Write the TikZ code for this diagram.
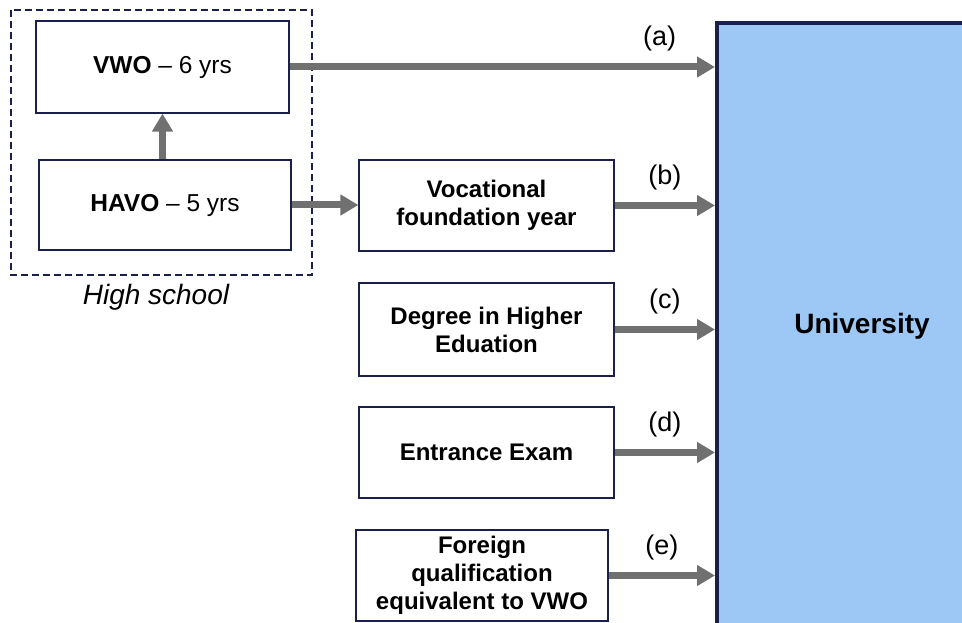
\documentclass[tikz,border=0pt]{standalone}
\usepackage{fontspec}
\setmainfont{Liberation Sans}
\usetikzlibrary{arrows.meta}
\definecolor{navy}{HTML}{1B1F4B}
\definecolor{unifill}{HTML}{9DC8F5}
\definecolor{flowgray}{HTML}{707070}

\begin{document}
\begin{tikzpicture}[x=1pt,y=-1pt,
  box/.style={draw=navy, line width=1.2pt, fill=white, align=center, inner sep=0pt, font=\fontsize{24}{28}\selectfont\bfseries},
  flow/.style={draw=flowgray, line width=7pt, -{Triangle[length=18pt,width=20pt]}},
  tag/.style={font=\fontsize{27}{30}\selectfont}]

\useasboundingbox (0,0) rectangle (962,623);

% the university block, cut off at the right and bottom
\node[draw=navy, line width=4pt, fill=unifill, minimum width=290pt, minimum height=606pt,
  font=\fontsize{28}{32}\selectfont\bfseries] (uni) at (862,326) {University};

% high school
\draw[navy, line width=1.2pt, dash pattern=on 7pt off 4pt] (11,10) rectangle (312,275);
\node[box, minimum width=253pt, minimum height=92pt, font=\fontsize{24.5}{28}\selectfont] (vwo) at (162.5,67) {\textbf{VWO} -- 6 yrs};
\node[box, minimum width=252pt, minimum height=90pt, font=\fontsize{24.5}{28}\selectfont] (havo) at (165,205) {\textbf{HAVO} -- 5 yrs};
\node[tag, font=\fontsize{28}{30}\selectfont\itshape] (hs) at (156,297) {High school};

% other routes
\node[box, minimum width=255pt, minimum height=91pt] (voc) at (486.5,205.5) {Vocational\\foundation year};
\node[box, minimum width=255pt, minimum height=93pt] (deg) at (486.5,329.5) {Degree in Higher\\Eduation};
\node[box, minimum width=255pt, minimum height=91pt] (exam) at (486.5,452.5) {Entrance Exam};
\node[box, minimum width=252pt, minimum height=91pt] (frgn) at (482,575.5) {Foreign\\qualification\\equivalent to VWO};

% arrows
\draw[flow] (vwo.south |- havo.north) -- (vwo.south);
\draw[flow] (havo.east) -- (havo.east -| voc.west);
\draw[flow] (vwo.east) -- (vwo.east -| uni.west) node[tag, pos=0.87, above=9pt] {(a)};
\draw[flow] (voc.east) -- (voc.east -| uni.west) node[tag, midway, above=9pt] {(b)};
\draw[flow] (deg.east) -- (deg.east -| uni.west) node[tag, midway, above=9pt] {(c)};
\draw[flow] (exam.east) -- (exam.east -| uni.west) node[tag, midway, above=9pt] {(d)};
\draw[flow] (frgn.east) -- (frgn.east -| uni.west) node[tag, midway, above=9pt] {(e)};

\end{tikzpicture}
\end{document}
